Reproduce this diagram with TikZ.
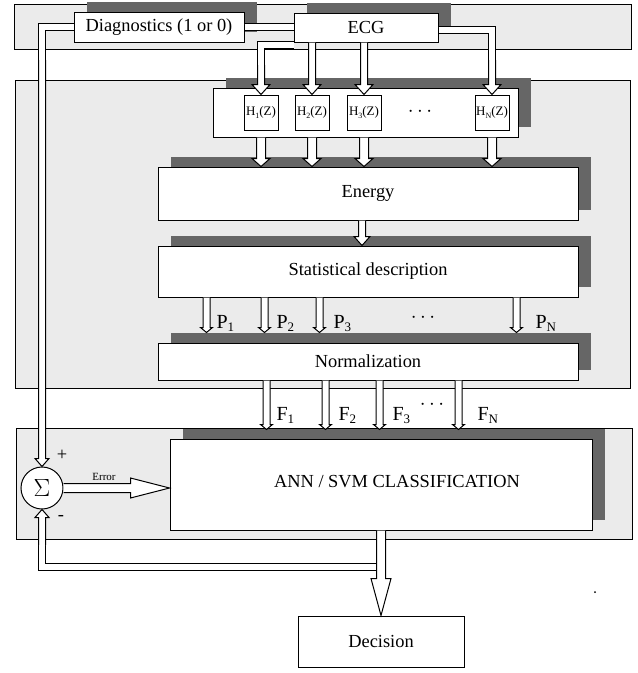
\documentclass[tikz,border=0pt]{standalone}
\usepackage{fontspec}
\setmainfont{Liberation Serif}
\usetikzlibrary{calc,shadows}

\newcommand{\lowsub}[2][13]{\raisebox{-0.4ex}{\fontsize{#1}{#1}\selectfont #2}}

\tikzset{
	sw/.store in=\shaftw, hw/.store in=\headw, hl/.store in=\headl,
	sw=3.5pt, hw=8pt, hl=8pt,
	hollow/.style={fill=white, line width=1pt, line join=miter, to path={
		($(\tikztostart)!\shaftw!-90:(\tikztotarget)$)
		-- ($(\tikztotarget)!\headl!(\tikztostart)!\shaftw!90:(\tikztostart)$)
		-- ($(\tikztotarget)!\headl!(\tikztostart)!\headw!90:(\tikztostart)$)
		-- (\tikztotarget)
		-- ($(\tikztotarget)!\headl!(\tikztostart)!\headw!-90:(\tikztostart)$)
		-- ($(\tikztotarget)!\headl!(\tikztostart)!\shaftw!-90:(\tikztostart)$)
		-- ($(\tikztostart)!\shaftw!90:(\tikztotarget)$)}},
	channel/.style={double=white, double distance=6pt, line width=1pt}
}

\begin{document}
\begin{tikzpicture}[x=1pt, y=-1pt, font=\fontsize{18.4}{20}\selectfont,
	panel/.style={draw, fill=black!8, line width=1pt, inner sep=0pt},
	box/.style={draw, fill=white, line width=1pt, inner sep=0pt,
		general shadow={fill=black!60, shadow xshift=13pt, shadow yshift=10pt}},
	hbox/.style={draw, fill=white, line width=1pt, inner sep=0pt, minimum width=34pt, minimum height=35pt, font=\fontsize{13}{14}\selectfont},
	lab/.style={anchor=base west, font=\fontsize{20}{22}\selectfont}]
	\useasboundingbox (0,0) rectangle (638,673);

	\node [panel, minimum width=617pt, minimum height=45pt] (toppanel) at (322.5,26.5) {};
	\node [panel, minimum width=615pt, minimum height=308pt] (midpanel) at (322.5,234) {};
	\node [panel, minimum width=616pt, minimum height=111pt] (botpanel) at (324,483.5) {};

	\node [box, minimum width=170pt, minimum height=30pt] (diag) at (159,27) {Diagnostics (1 or 0)};
	\node [box, minimum width=144pt, minimum height=29pt] (ecg) at (366,27.5) {ECG};
	\node [box, minimum width=305pt, minimum height=49pt] (filt) at (365.5,112.5) {};
	\node [hbox] (h1) at (261,112.5) {H\lowsub[8]{1}(Z)};
	\node [hbox] (h2) at (312,112.5) {H\lowsub[8]{2}(Z)};
	\node [hbox] (h3) at (364,112.5) {H\lowsub[8]{3}(Z)};
	\node [font=\fontsize{22}{22}\selectfont] (hdots) at (420,112) {$\cdots$};
	\node [hbox] (hn) at (492,112.5) {H\lowsub[8]{N}(Z)};
	\node [box, minimum width=420pt, minimum height=53pt] (energy) at (368,193.5) {Energy};
	\node [box, minimum width=420pt, minimum height=51pt] (stat) at (368,271.5) {Statistical description};
	\node [box, minimum width=420pt, minimum height=37pt] (norm) at (368,361.5) {Normalization};
	\node [box, minimum width=422pt, minimum height=91pt] (ann) at (381,484.5) {};
	\node (anntext) at (397,482) {ANN / SVM CLASSIFICATION};
	\node [draw, circle, fill=white, line width=1pt, minimum size=42pt, inner sep=0pt, font=\fontsize{30}{30}\selectfont] (sigma) at (42,488) {$\Sigma$};
	\node [draw, line width=1pt, minimum width=166pt, minimum height=51pt] (decision) at (381,641.5) {Decision};

	\coordinate (k0) at (42,60);
	\coordinate (k1) at (261,65);
	\coordinate (kn) at (492,60);
	\coordinate (fb) at (381,567);
	\coordinate (k4) at (42,545);

	\draw [channel] (diag.east) -- (diag.east -| ecg.west);
	\draw [channel] (diag.west) -| (k0);
	\draw [hollow, hw=7pt, hl=8pt] (k0) to (sigma.north);
	\draw [channel] ([yshift=-2pt]ecg.south west) -| (k1);
	\draw [hollow, hw=9pt, hl=10pt] (k1) to (h1.north);
	\draw [hollow, hw=9pt, hl=10pt] (h2.north |- ecg.south) to (h2.north);
	\draw [hollow, hw=9pt, hl=10pt] (h3.north |- ecg.south) to (h3.north);
	\draw [channel] ([yshift=-2.5pt]ecg.east) -| (kn);
	\draw [hollow, hw=9pt, hl=10pt] (kn) to (hn.north);

	\draw [hollow, sw=4.5pt, hw=9pt, hl=8pt] (h1.south |- filt.south) to (h1.south |- energy.north);
	\draw [hollow, sw=4.5pt, hw=9pt, hl=8pt] (h2.south |- filt.south) to (h2.south |- energy.north);
	\draw [hollow, sw=4.5pt, hw=9pt, hl=8pt] (h3.south |- filt.south) to (h3.south |- energy.north);
	\draw [hollow, sw=4.5pt, hw=9pt, hl=8pt] (hn.south |- filt.south) to (hn.south |- energy.north);
	\draw [hollow, hw=8pt, hl=9pt] ([xshift=-6pt]energy.south) to ([xshift=-6pt]stat.north);

	\draw [hollow, hw=6pt, hl=5pt] ([xshift=49pt]stat.south west) to ([xshift=49pt,yshift=10pt]norm.north west);
	\draw [hollow, hw=6pt, hl=5pt] ([xshift=107pt]stat.south west) to ([xshift=107pt,yshift=10pt]norm.north west);
	\draw [hollow, hw=6pt, hl=5pt] ([xshift=162pt]stat.south west) to ([xshift=162pt,yshift=10pt]norm.north west);
	\draw [hollow, hw=6pt, hl=5pt] ([xshift=359pt]stat.south west) to ([xshift=359pt,yshift=10pt]norm.north west);
	\node [lab] (p1) at (213,328) {P\lowsub{1}};
	\node [lab] (p2) at (273,328) {P\lowsub{2}};
	\node [lab] (p3) at (330,328) {P\lowsub{3}};
	\node [font=\fontsize{22}{22}\selectfont] (pdots) at (423,318) {$\cdots$};
	\node [lab] (pn) at (532,328) {P\lowsub{N}};

	\draw [hollow, hw=6pt, hl=5pt] ([xshift=109pt]norm.south west) to ([xshift=97pt,yshift=9pt]ann.north west);
	\draw [hollow, hw=6pt, hl=5pt] ([xshift=168pt]norm.south west) to ([xshift=156pt,yshift=9pt]ann.north west);
	\draw [hollow, hw=6pt, hl=5pt] ([xshift=222pt]norm.south west) to ([xshift=210pt,yshift=9pt]ann.north west);
	\draw [hollow, hw=6pt, hl=5pt] ([xshift=301pt]norm.south west) to ([xshift=289pt,yshift=9pt]ann.north west);
	\node [lab] (f1) at (273,420) {F\lowsub{1}};
	\node [lab] (f2) at (335,420) {F\lowsub{2}};
	\node [lab] (f3) at (389,420) {F\lowsub{3}};
	\node [font=\fontsize{20}{20}\selectfont] (fdots) at (432,405) {$\cdots$};
	\node [lab] (fn) at (474,420) {F\lowsub{N}};

	\draw [hollow, sw=4.5pt, hw=10pt, hl=39pt] (sigma.east) to (sigma.east -| ann.west);
	\node [font=\fontsize{11}{12}\selectfont] (err) at (104,477) {Error};
	\node (plus) at (62,455) {+};
	\node (minus) at (61,518) {-};

	\draw [channel] (fb) -| (k4);
	\draw [hollow, hw=7pt, hl=8pt] (k4) to (sigma.south);
	\draw [hollow, sw=4.5pt, hw=10pt, hl=37pt] (ann.south) to (ann.south |- decision.north);

	\fill (595,592) circle (1pt);
\end{tikzpicture}
\end{document}
